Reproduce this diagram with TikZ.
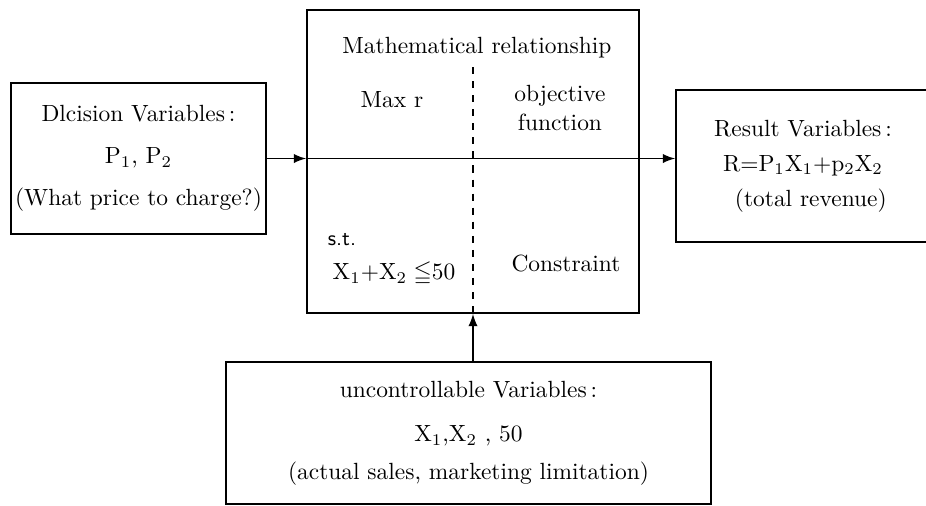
\documentclass[tikz,border=0pt]{standalone}
\usepackage{amsmath, amssymb}
\usepackage{tikz}

\begin{document}
\begin{tikzpicture}[x=0.015cm, y=-0.015cm, >=latex,
    varbox/.style={draw, thick, align=center, inner sep=0pt},
    txt/.style={inner sep=1pt, align=center}]
        \useasboundingbox (0,0) rectangle (926,505);
        % boxes
        \node[varbox, minimum width=3.825cm, minimum height=2.265cm] (dec) at (138.5,158.5)
          {Dlcision Variables\,:\\[6pt] P$_1$, P$_2$\\[6pt] (What price to charge?)};
        \node[varbox, minimum width=4.98cm, minimum height=4.545cm] (math) at (473,161.5) {};
        \node[varbox, minimum width=3.81cm, minimum height=2.28cm] (res) at (803,166)
          {Result Variables\,:\\[3pt] R$=$P$_1$X$_1+$p$_2$X$_2$\\[3pt] \ \ (total revenue)};
        \node[varbox, minimum width=7.275cm, minimum height=2.13cm] (unc) at (468.5,433)
          {uncontrollable Variables\,:\\[7pt] X$_1$,X$_2$ , 50\\[4pt] (actual sales, marketing limitation)};
        % texts in the middle box
        \node[txt] (title) at (477,48) {Mathematical relationship};
        \node[txt] (maxr) at (392,100) {Max r};
        \node[txt] (obj) at (560,108) {objective\\ function};
        \node[txt, font=\sffamily\small] (st) at (342,240) {s.t.};
        \node[txt] (cons) at (394,274) {X$_1+$X$_2\leqq$50};
        \node[txt] (cname) at (566,263) {Constraint};
        % divider and connectors
        \draw[thick, dashed] ([yshift=-58*0.015cm]math.north) -- (math.south);
        \draw[->, thick] (dec.east) -- (dec.east -| math.west);
        \draw[->, thick] (dec.east -| math.west) -- (dec.east -| res.west);
        \draw[->, thick] (unc.north -| math.south) -- (math.south);
      \end{tikzpicture}
\end{document}
